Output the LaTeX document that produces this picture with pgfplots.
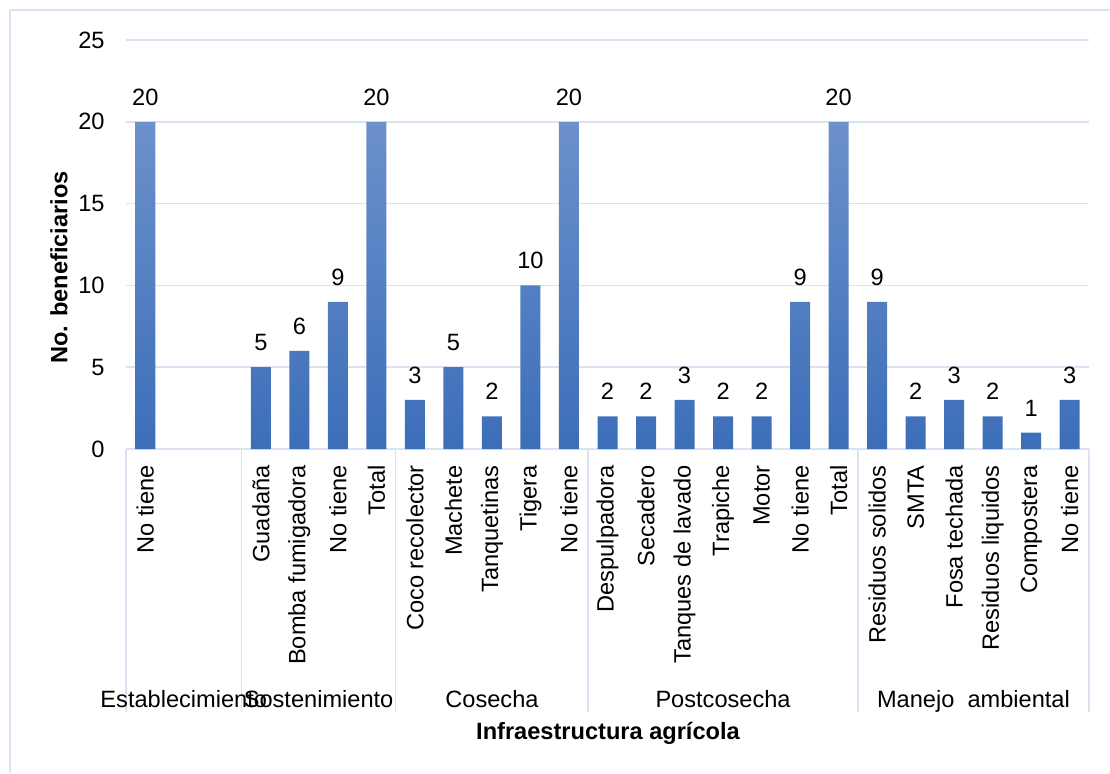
\documentclass[border=0pt]{standalone}
\usepackage{pgfplots}
\pgfplotsset{compat=1.18}
\usepackage{fontspec}
\setmainfont{Liberation Sans}
\definecolor{gridc}{RGB}{217,227,242}
\definecolor{bartop}{RGB}{108,145,203}
\definecolor{barbot}{RGB}{60,110,185}
\newcommand{\fs}{\fontsize{11.8}{14}\selectfont}
\begin{document}
\begin{tikzpicture}
\path[use as bounding box] (0,0) rectangle (555pt,386.5pt);
\draw[gridc, line width=0.75pt] (5pt,0) -- (5pt,381.5pt) -- (555pt,381.5pt);
\begin{axis}[
  at={(63pt,162pt)}, anchor=south west,
  scale only axis, width=481.5pt, height=204.5pt,
  xmin=-0.5, xmax=24.5, ymin=0, ymax=25,
  /pgf/number format/assume math mode=true,
  ytick={0,5,...,25},
  xtick={0,...,24},
  xticklabels={No tiene,,,Guadaña,Bomba fumigadora,No tiene,Total,Coco recolector,Machete,Tanquetinas,Tigera,No tiene,Despulpadora,Secadero,Tanques de lavado,Trapiche,Motor,No tiene,Total,Residuos solidos,SMTA,Fosa techada,Residuos liquidos,Compostera,No tiene},
  xticklabel style={rotate=90, anchor=east, font=\fs, inner xsep=8pt, inner ysep=0pt},
  yticklabel style={anchor=east, font=\fs, inner xsep=10.5pt, inner ysep=0pt},
  axis x line*=bottom, axis y line*=left,
  y axis line style={draw=none},
  x axis line style={gridc, line width=0.75pt},
  major tick length=0pt,
  tick style={draw=none},
  ymajorgrids, grid style={gridc, line width=0.75pt},
  clip=false,
  ybar, bar width=10pt,
  nodes near coords,
  nodes near coords style={font=\fs, anchor=south, inner sep=0pt, yshift=8pt, text=black},
]
\addplot[draw=none, top color=bartop, bottom color=barbot] coordinates {
 (0,20) (3,5) (4,6) (5,9) (6,20)
 (7,3) (8,5) (9,2) (10,10) (11,20)
 (12,2) (13,2) (14,3) (15,2) (16,2) (17,9) (18,20)
 (19,9) (20,2) (21,3) (22,2) (23,1) (24,3)
};
\pgfplotsinvokeforeach{-0.5,2.5,6.5,11.5,18.5,24.5}{
  \draw[gridc, line width=0.75pt] (axis cs:#1,0) -- ([yshift=-131.5pt]axis cs:#1,0);
}
\node[font=\fs, anchor=base] at (axis cs:1,0) [yshift=-129pt] {Establecimiento};
\node[font=\fs, anchor=base] at (axis cs:4.5,0) [yshift=-129pt] {Sostenimiento};
\node[font=\fs, anchor=base] at (axis cs:9,0) [yshift=-129pt] {Cosecha};
\node[font=\fs, anchor=base] at (axis cs:15,0) [yshift=-129pt] {Postcosecha};
\node[font=\fs, anchor=base] at (axis cs:21.5,0) [yshift=-129pt] {Manejo\ \ ambiental};
\end{axis}
\node[font=\bfseries\fs] at (304pt,20pt) {Infraestructura agrícola};
\node[font=\bfseries\fs, rotate=90] at (29.5pt,252.75pt) {No. beneficiarios};
\end{tikzpicture}
\end{document}
